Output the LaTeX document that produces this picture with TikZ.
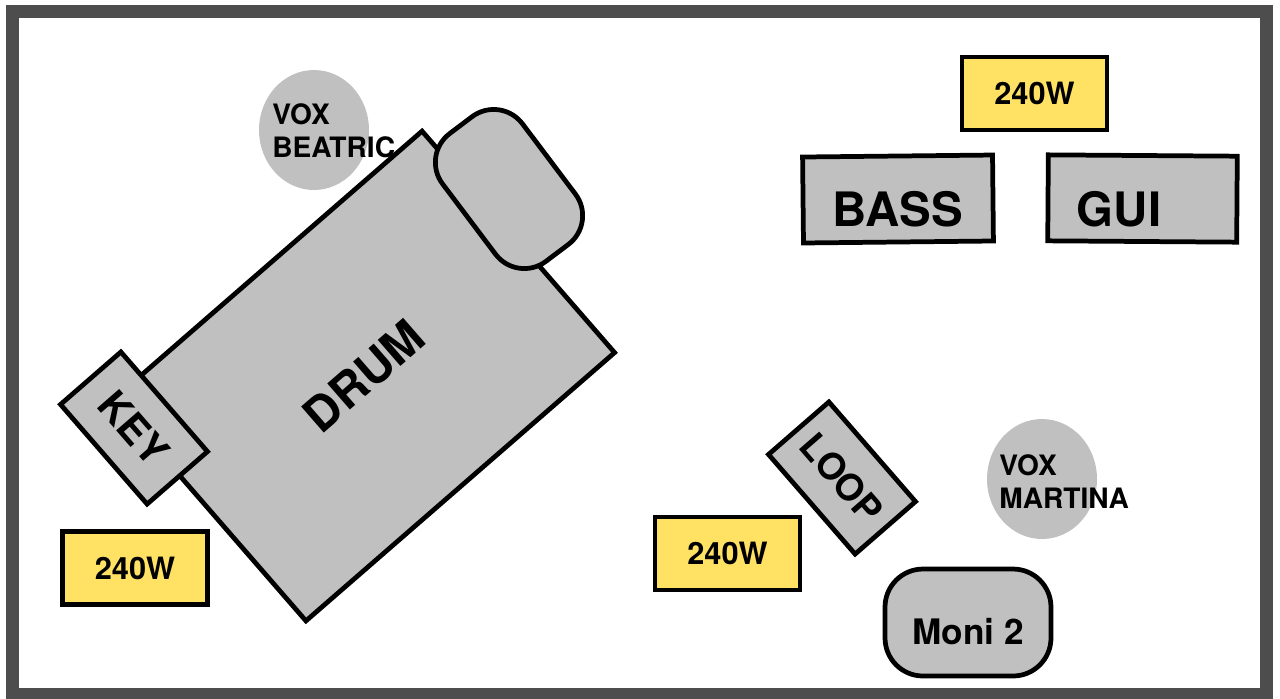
\documentclass[tikz,border=0pt]{standalone}
\usepackage{fontspec}
\setmainfont{TeX Gyre Heros}
\usepackage{xcolor}
\usepackage{tikz}
\usetikzlibrary{shapes.geometric, positioning, calc}

\begin{document}
\begin{tikzpicture}[x=0.02cm, y=-0.02cm,
    gear/.style={draw=black, line width=2.7pt, fill=geargray, inner sep=0pt},
    amp/.style={draw=black, line width=2.5pt, fill=ampyellow, inner sep=0pt,
        minimum width=2.9cm, minimum height=1.46cm, font=\fontsize{17.5}{20}\selectfont\bfseries},
    mic/.style={ellipse, fill=geargray, inner sep=0pt, minimum width=2.2cm, minimum height=2.4cm},
    mictext/.style={anchor=north west, align=left, inner sep=0pt, font=\fontsize{16}{19}\selectfont\bfseries},
    bigtext/.style={inner sep=0pt, font=\fontsize{27}{30}\selectfont\bfseries}]
        % Define colors for the stage plan
        \definecolor{geargray}{RGB}{192,192,192}
        \definecolor{ampyellow}{RGB}{255,225,100}
        \definecolor{framegray}{RGB}{77,77,77}

        \useasboundingbox (0,0) rectangle (1280,698);

        % Stage frame
        \draw[line width=13pt*0.567, color=framegray] (12.5,11.5) rectangle (1266.5,694.5);

        % Drum corner with the vocal mic behind it
        \node[mic] (beatric) at (314,130) {};
        \node[gear, rotate=41, minimum width=8.18cm, minimum height=5.87cm,
            font=\fontsize{27}{30}\selectfont\bfseries] (drum) at (364,376) {DRUM};
        \node[gear, rotate=-53, rounded corners=0.72cm, minimum width=3.2cm, minimum height=2cm] (drumtop) at (509,189) {};
        \node[gear, rotate=-49, minimum width=2.64cm, minimum height=1.6cm,
            font=\fontsize{23}{26}\selectfont\bfseries] (key) at (134,428) {KEY};
        \node[mictext] (beatrictext) at (272,103) {VOX\\BEATRIC};

        % Amps
        \node[amp] (ampgui) at (1034.5,93.5) {240W};
        \node[amp] (ampkey) at (135,568) {240W};
        \node[amp] (amploop) at (727.5,553.5) {240W};

        % Bass and guitar
        \node[gear, rotate=0.6, minimum width=3.8cm, minimum height=1.72cm] (bass) at (898,199) {};
        \node[bigtext] (basstext) at ([yshift=-0.21cm]bass.center) {BASS};
        \node[gear, rotate=-0.4, minimum width=3.78cm, minimum height=1.72cm] (gui) at (1142.5,198.5) {};
        \node[bigtext] (guitext) at ([xshift=-0.47cm, yshift=-0.22cm]gui.center) {GUI};

        % Front right
        \node[gear, rotate=-49, minimum width=2.64cm, minimum height=1.6cm,
            font=\fontsize{21}{24}\selectfont\bfseries] (loop) at (842,478) {LOOP};
        \node[mic] (martina) at (1042,479) {};
        \node[mictext] (martinatext) at (999,454) {VOX\\MARTINA};
        \node[gear, rounded corners=0.76cm, minimum width=3.32cm, minimum height=2.14cm] (moni) at (968,622.5) {};
        \node[inner sep=0pt, font=\fontsize{20}{24}\selectfont\bfseries] (monitext) at ([yshift=-0.18cm]moni.center) {Moni 2};

    \end{tikzpicture}
\end{document}
